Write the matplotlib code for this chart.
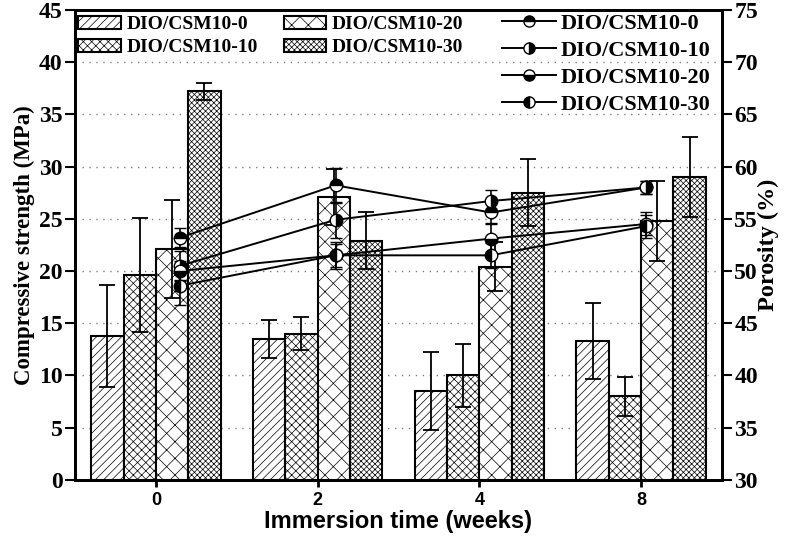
import numpy as np
import matplotlib
matplotlib.use("Agg")
import matplotlib.pyplot as plt
from matplotlib.lines import Line2D

# ── data ──────────────────────────────────────────────────
weeks  = ["0", "2", "4", "8"]
labels = ["DIO/CSM10-0", "DIO/CSM10-10", "DIO/CSM10-20", "DIO/CSM10-30"]

# compressive strength (MPa), one list per sample, one value per week
strength = [
    [13.8, 13.5, 8.5, 13.3],
    [19.6, 14.0, 10.0, 8.0],
    [22.1, 27.1, 20.4, 24.8],
    [37.2, 22.9, 27.5, 29.0],
]
strength_err = [
    [4.9, 1.85, 3.75, 3.6],
    [5.45, 1.6, 3.05, 1.9],
    [4.7, 2.7, 2.35, 3.85],
    [0.8, 2.75, 3.2, 3.8],
]

# porosity (%)
porosity = [
    [53.2, 58.2, 55.6, 58.0],
    [50.5, 54.9, 56.7, 58.0],
    [50.0, 51.5, 53.1, 54.5],
    [48.6, 51.5, 51.5, 54.3],
]
porosity_err = [
    [0.9, 1.7, 1.0, 0.6],
    [1.4, 1.7, 1.1, 0.6],
    [1.0, 1.3, 1.4, 1.1],
    [1.9, 1.1, 1.2, 1.1],
]

# ── style ─────────────────────────────────────────────────
SERIF = "Liberation Serif"
SANS  = "Liberation Sans"
hatches = ["////", "xxxx", "xx", "xxxxxx"]
fills   = ["top", "right", "bottom", "left"]

plt.rcParams["hatch.linewidth"] = 0.5
plt.rcParams["font.family"] = SERIF
plt.rcParams["font.weight"] = "bold"

fig = plt.figure(figsize=(7.87, 5.46), dpi=100)
ax = fig.add_axes([0.0953, 0.121, 0.822, 0.861])

x = np.arange(len(weeks))
width = 0.2

bar_handles = []
for i in range(4):
    b = ax.bar(x + (i - 1.5) * width, strength[i], width,
               yerr=strength_err[i], capsize=6,
               color="white", edgecolor="black", linewidth=1.5,
               hatch=hatches[i], label=labels[i],
               error_kw=dict(elinewidth=1.3, capthick=1.3, ecolor="black"))
    bar_handles.append(b)

ax.set_xlim(-0.5, 3.5)
ax.set_ylim(0, 45)
ax.set_yticks(np.arange(0, 46, 5))
ax.set_xticks(x)
ax.set_xticklabels(weeks, family=SANS, fontsize=13, fontweight="bold")
ax.yaxis.grid(True, linestyle=(0, (1, 4)), color="gray", linewidth=1)
ax.set_axisbelow(True)
ax.tick_params(axis="y", labelsize=17, length=7, width=1.5, direction="out", pad=2)
ax.tick_params(axis="x", length=5, width=2, direction="out")
for s in ax.spines.values():
    s.set_linewidth(2)

ax.set_ylabel("Compressive strength (MPa)", fontsize=16.5, fontweight="bold", labelpad=3)
ax.set_xlabel("Immersion time (weeks)", family=SANS, fontsize=17,
              fontweight="bold", labelpad=1)

# porosity on the right axis (markers sit slightly right of group centre)
ax2 = ax.twinx()
px = x * 0.961 + 0.15
for i in range(4):
    ax2.errorbar(px, porosity[i], yerr=porosity_err[i], color="black",
                 linewidth=1.4, capsize=4, elinewidth=1.2, capthick=1.2,
                 marker="o", markersize=9, fillstyle=fills[i],
                 markerfacecolor="black", markerfacecoloralt="white",
                 markeredgecolor="black", markeredgewidth=1.0)

ax2.set_ylim(30, 75)
ax2.set_yticks(np.arange(30, 76, 5))
ax2.tick_params(axis="y", labelsize=17, length=7, width=1.5, direction="out", pad=2)
ax2.set_ylabel("Porosity (%)", fontsize=17.5, fontweight="bold", labelpad=0)
for s in ax2.spines.values():
    s.set_linewidth(2)

for t in ax.get_yticklabels() + ax2.get_yticklabels():
    t.set_fontweight("bold")

# legend handles for the lines: plain line + half-filled marker, no error bars
line_handles = [Line2D([], [], color="black", linewidth=1.4, marker="o", markersize=8,
                       fillstyle=fills[i], markerfacecolor="black",
                       markerfacecoloralt="white", markeredgecolor="black",
                       markeredgewidth=1.0) for i in range(4)]

# both legends live on the top axes so they sit above the lines
leg1 = ax2.legend(handles=bar_handles, labels=labels, loc="upper left",
                  bbox_to_anchor=(0.002, 0.992),
                  ncol=2, frameon=False, borderaxespad=0, borderpad=0.1,
                  handlelength=2.2, handleheight=0.65, handletextpad=0.3,
                  columnspacing=1.3, labelspacing=0.3,
                  prop={"family": SERIF, "weight": "bold", "size": 14})
ax2.add_artist(leg1)

ax2.legend(handles=line_handles, labels=labels, loc="upper right",
           bbox_to_anchor=(0.985, 0.998),
           frameon=False, borderaxespad=0, borderpad=0.1,
           handlelength=2.4, handletextpad=0.2, labelspacing=0.3,
           prop={"family": SERIF, "weight": "bold", "size": 16})

fig.savefig("out.png", dpi=100)
